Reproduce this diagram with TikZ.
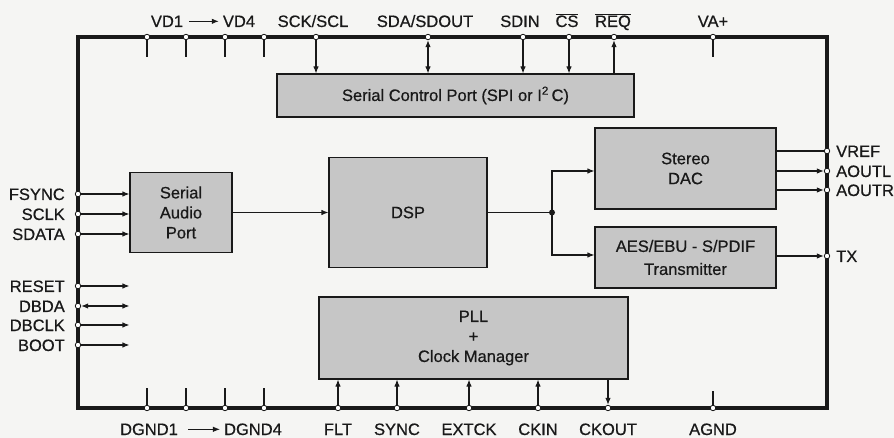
\documentclass[tikz,border=0pt]{standalone}
\usepackage{fontspec}
\setmainfont{Liberation Sans}[FakeBold=0.6]
\usetikzlibrary{arrows.meta}
\definecolor{boxfill}{RGB}{198,198,198}
\definecolor{paper}{RGB}{245,245,243}
\definecolor{ink}{RGB}{25,25,25}
\begin{document}
\begin{tikzpicture}[x=1pt,y=-1pt,
  font=\fontsize{16.5}{20}\selectfont,
  block/.style={draw=ink, line width=1.1pt, fill=boxfill, align=center, inner sep=0, text=ink},
  pin/.style={circle, draw=ink, fill=white, line width=0.8pt, inner sep=0, minimum size=5.5pt},
  wire/.style={draw=ink, line width=1.1pt},
  arr/.style={wire, -{Latex[length=7pt,width=5.5pt]}},
  darr/.style={wire, {Latex[length=7pt,width=5.5pt]}-{Latex[length=7pt,width=5.5pt]}},
  lbl/.style={inner sep=0, text=ink}]
\useasboundingbox (0,0) rectangle (894,438);
\fill[paper] (0,0) rectangle (894,438);

% chip outline
\node[draw=ink, line width=3.5pt, minimum width=749pt, minimum height=371pt, inner sep=0] (chip) at (452.5,222.5) {};

% blocks
\node[block, minimum width=357pt, minimum height=43pt] (scp) at (455.5,95.5) {Serial Control Port (SPI or I\textsuperscript{2}\,C)};
\node[block, minimum width=102pt, minimum height=80pt] (sap) at (181,212.5) {Serial\\Audio\\Port};
\node[block, minimum width=158pt, minimum height=110pt] (dsp) at (408,212.5) {DSP};
\node[block, minimum width=181pt, minimum height=81pt] (dac) at (685.5,168.5) {Stereo\\DAC};
\node[block, minimum width=181pt, minimum height=61pt] (aes) at (685.5,257.5) {AES/EBU - S/PDIF\\[3pt]Transmitter};
\node[block, minimum width=309pt, minimum height=82pt] (pll) at (473.5,338) {PLL\\+\\Clock Manager};

% pins
\foreach \n/\x in {vda/147, vdb/186, vdc/225, vdd/264, sck/316, sda/428, sdin/523, cs/569, req/614, vap/713}
  \node[pin] (t-\n) at (\x,37) {};
\foreach \n/\x in {dga/147, dgb/186, dgc/225, dgd/264, flt/338, sync/397, extck/469, ckin/538, ckout/608, agnd/713}
  \node[pin] (b-\n) at (\x,408) {};
\foreach \n/\y in {fsync/194, sclk/214, sdata/234, reset/286, dbda/306, dbclk/325, boot/345}
  \node[pin] (l-\n) at (78,\y) {};
\foreach \n/\y in {vref/151, aoutl/171, aoutr/190, tx/256}
  \node[pin] (r-\n) at (827,\y) {};

% stubs
\foreach \n/\x in {vda/147, vdb/186, vdc/225, vdd/264, vap/713} {
  \coordinate (ts-\n) at (\x,57);
  \draw[wire] (t-\n) -- (ts-\n);
}
\foreach \n/\x in {dga/147, dgb/186, dgc/225, dgd/264} {
  \coordinate (bs-\n) at (\x,388);
  \draw[wire] (b-\n) -- (bs-\n);
}
\coordinate (bs-agnd) at (713,391);
\draw[wire] (b-agnd) -- (bs-agnd);

% top connectors
\draw[arr] (t-sck) -- (t-sck |- scp.north);
\draw[darr] (t-sda) -- (t-sda |- scp.north);
\draw[arr] (t-sdin) -- (t-sdin |- scp.north);
\draw[arr] (t-cs) -- (t-cs |- scp.north);
\draw[arr] (t-req |- scp.north) -- (t-req);

% left connectors
\foreach \n in {fsync,sclk,sdata,reset,dbclk,boot}
  \draw[arr] (l-\n) -- (l-\n -| sap.west);
\draw[darr] (l-dbda) -- (l-dbda -| sap.west);

% right connectors
\draw[wire] (r-vref -| dac.east) -- (r-vref);
\draw[arr] (r-aoutl -| dac.east) -- (r-aoutl);
\draw[arr] (r-aoutr -| dac.east) -- (r-aoutr);
\draw[arr] (r-tx -| aes.east) -- (r-tx);

% bottom connectors
\foreach \n in {flt,sync,extck,ckin}
  \draw[arr] (b-\n) -- (b-\n |- pll.south);
\draw[arr] (b-ckout |- pll.south) -- (b-ckout);

% internal
\draw[arr] (sap.east) -- (dsp.west);
\coordinate (j) at (552,212.5);
\draw[wire] (dsp.east) -- (j);
\fill[ink] (j) circle (3pt);
\draw[arr] (j) |- ([yshift=-2.5pt]dac.west);
\draw[arr] (j) |- ([yshift=2.5pt]aes.west);

% top labels
\node[lbl, anchor=base] (vd1) at (167,27) {VD1};
\node[lbl, anchor=base] (vd4) at (239,27) {VD4};
\draw[arr, line width=0.9pt, shorten <=6pt, shorten >=4pt] (vd1) -- (vd4);
\node[lbl, anchor=base] (lsck) at (313,27) {SCK/SCL};
\node[lbl, anchor=base] (lsda) at (425,27) {SDA/SDOUT};
\node[lbl, anchor=base] (lsdin) at (520,27) {SDIN};
\node[lbl, anchor=base] (lcs) at (567,27) {$\overline{\hbox{CS}}$};
\node[lbl, anchor=base] (lreq) at (613,27) {$\overline{\hbox{REQ}}$};
\node[lbl, anchor=base] (lvap) at (713,27) {VA+};

% bottom labels
\node[lbl, anchor=base] (dg1) at (149,435) {DGND1};
\node[lbl, anchor=base] (dg4) at (253,435) {DGND4};
\draw[arr, line width=0.9pt, shorten <=10pt, shorten >=4pt] (dg1) -- (dg4);
\node[lbl, anchor=base] (lflt) at (338,435) {FLT};
\node[lbl, anchor=base] (lsync) at (397,435) {SYNC};
\node[lbl, anchor=base] (lextck) at (469,435) {EXTCK};
\node[lbl, anchor=base] (lckin) at (538,435) {CKIN};
\node[lbl, anchor=base] (lckout) at (608,435) {CKOUT};
\node[lbl, anchor=base] (lagnd) at (713,435) {AGND};

% left labels
\foreach \n/\t/\y in {fsync/FSYNC/194, sclk/SCLK/214, sdata/SDATA/234, reset/RESET/286, dbda/DBDA/306, dbclk/DBCLK/325, boot/BOOT/345}
  \node[lbl, anchor=base east] (ll-\n) at (65,\y+6) {\t};

% right labels
\foreach \n/\t/\y in {vref/VREF/151, aoutl/AOUTL/171, aoutr/AOUTR/190, tx/TX/256}
  \node[lbl, anchor=base west] (rl-\n) at (836,\y+6) {\t};
\end{tikzpicture}
\end{document}
